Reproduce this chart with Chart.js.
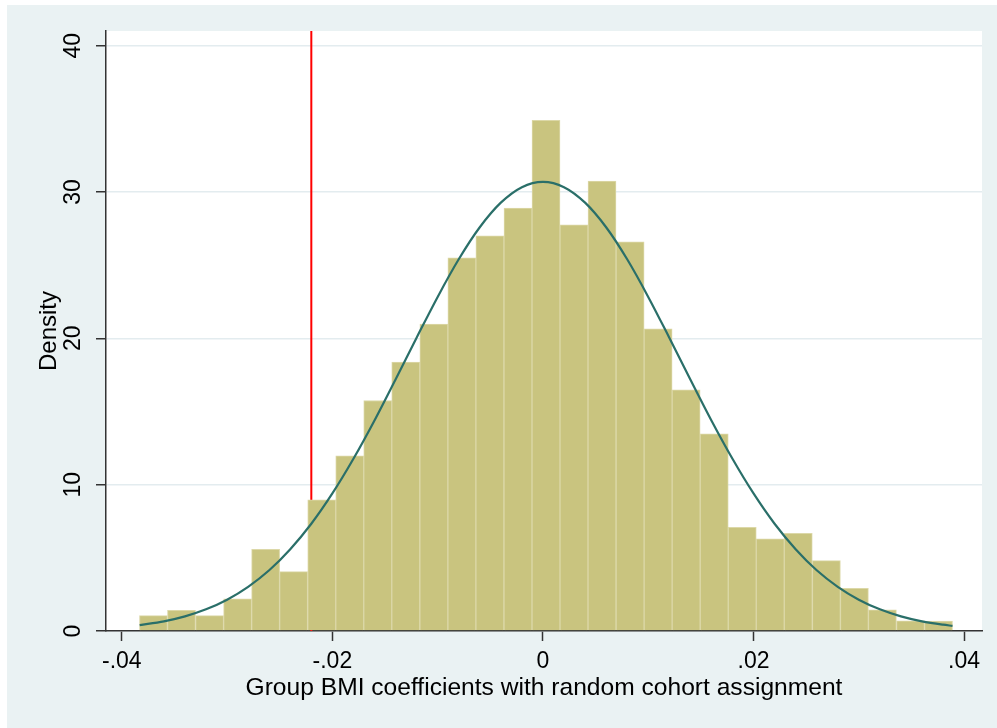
<!DOCTYPE html>
<html><head><meta charset="utf-8">
<script src="https://cdn.jsdelivr.net/npm/chart.js@4/dist/chart.umd.min.js"></script>
<style>html,body{margin:0;padding:0;background:#fff;overflow:hidden}canvas{display:block}</style>
</head><body>
<canvas id="c" width="997" height="728"></canvas>
<script>
// Histogram bins (bin centers) and densities
const binCenters = [-0.03699,-0.03433,-0.03166,-0.02900,-0.02634,-0.02368,-0.02101,-0.01835,-0.01569,-0.01303,
  -0.01036,-0.00770,-0.00504,-0.00237,0.00029,0.00295,0.00561,0.00828,0.01094,0.01360,
  0.01627,0.01893,0.02159,0.02425,0.02692,0.02958,0.03224,0.03491,0.03757];
const binDensity = [1.05,1.41,1.05,2.19,5.58,4.06,8.96,11.97,15.75,18.37,
  20.97,25.5,27.0,28.9,34.9,27.76,30.75,26.6,20.65,16.48,
  13.47,7.09,6.29,6.68,4.81,2.92,1.44,0.70,0.68];
// Normal density overlay, read at points along the curve
const curveX = [-0.0383,-0.036,-0.034,-0.032,-0.030,-0.028,-0.026,-0.024,-0.022,-0.020,-0.018,-0.016,-0.014,-0.012,-0.010,-0.008,-0.006,-0.004,-0.002,0,
  0.002,0.004,0.006,0.008,0.010,0.012,0.014,0.016,0.018,0.020,0.022,0.024,0.026,0.028,0.030,0.032,0.034,0.036,0.038,0.0389];
const curveY = [0.40,0.66,1.00,1.48,2.14,3.02,4.15,5.59,7.33,9.40,11.77,14.39,17.19,20.04,22.83,25.40,27.59,29.27,30.33,30.69,
  30.33,29.27,27.59,25.40,22.83,20.04,17.19,14.39,11.77,9.40,7.33,5.59,4.15,3.02,2.14,1.48,1.00,0.66,0.43,0.35];
// Vertical reference line (actual coefficient)
const refLineX = [-0.0220, -0.0220];
const refLineY = [0, 41];
const xTickValues = [-0.04,-0.02,0,0.02,0.04];
const yTickValues = [0,10,20,30,40];
const xTitle = 'Group BMI coefficients with random cohort assignment';
const yTitle = 'Density';

const FONT = "'Liberation Sans', Arial, sans-serif";
const AXIS = '#333333';

const bgPlugin = {
  id: 'bg',
  beforeDraw(chart) {
    const {ctx, chartArea: a} = chart;
    ctx.save();
    ctx.fillStyle = '#ffffff';
    ctx.fillRect(0, 0, chart.width, chart.height);
    ctx.fillStyle = '#EAF2F3';
    ctx.fillRect(7, 5, chart.width - 7, chart.height - 5);
    ctx.fillStyle = '#ffffff';
    ctx.fillRect(a.left, a.top, a.right - a.left, a.bottom - a.top);
    ctx.restore();
  }
};

function fmtX(v) {
  if (Math.abs(v) < 1e-12) return '0';
  const s = Math.abs(v).toFixed(2).replace(/^0/, '');
  return (v < 0 ? '-' : '') + s;
}

new Chart(document.getElementById('c'), {
  type: 'bar',
  data: {
    datasets: [
      {
        type: 'line',
        data: refLineX.map((x, i) => ({x, y: refLineY[i]})),
        borderColor: '#FF0000',
        borderWidth: 2,
        pointRadius: 0,
        order: 3
      },
      {
        type: 'bar',
        data: binCenters.map((x, i) => ({x, y: binDensity[i]})),
        backgroundColor: '#C9C47F',
        borderColor: '#DCD8A8',
        borderWidth: 1,
        barPercentage: 1,
        categoryPercentage: 1,
        order: 2
      },
      {
        type: 'line',
        data: curveX.map((x, i) => ({x, y: curveY[i]})),
        borderColor: '#2A6F69',
        borderWidth: 2.2,
        pointRadius: 0,
        cubicInterpolationMode: 'monotone',
        order: 1
      }
    ]
  },
  options: {
    responsive: false,
    animation: false,
    layout: {padding: {top: 31, right: 15, left: 0, bottom: 0}},
    plugins: {legend: {display: false}, tooltip: {enabled: false}},
    scales: {
      x: {
        type: 'linear',
        min: -0.0415,
        max: 0.0417,
        offset: false,
        afterBuildTicks: s => { s.ticks = xTickValues.map(v => ({value: v})); },
        afterFit: s => { s.height = 97; },
        grid: {drawOnChartArea: false, offset: false, tickLength: 10, tickColor: AXIS, tickWidth: 1.5},
        border: {color: AXIS, width: 1.5},
        ticks: {color: '#000', font: {family: FONT, size: 23}, padding: 7, maxRotation: 0, minRotation: 0,
          callback: v => fmtX(v)},
        title: {display: true, text: xTitle, color: '#000', font: {family: FONT, size: 24.6}, padding: {top: 0, bottom: 25}}
      },
      y: {
        type: 'linear',
        min: 0,
        max: 41,
        afterBuildTicks: s => { s.ticks = yTickValues.map(v => ({value: v})); },
        afterFit: s => { s.width = 106; },
        grid: {color: '#E3ECEF', lineWidth: 1.5, tickLength: 10, tickColor: AXIS, tickWidth: 1.5},
        border: {color: AXIS, width: 1.5},
        ticks: {color: '#000', font: {family: FONT, size: 23}, padding: 10, minRotation: 90, maxRotation: 90,
          crossAlign: 'center', callback: v => String(v)},
        title: {display: true, text: yTitle, color: '#000', font: {family: FONT, size: 24}, padding: {top: 35, bottom: 0}}
      }
    }
  },
  plugins: [bgPlugin]
});
</script>
</body></html>
